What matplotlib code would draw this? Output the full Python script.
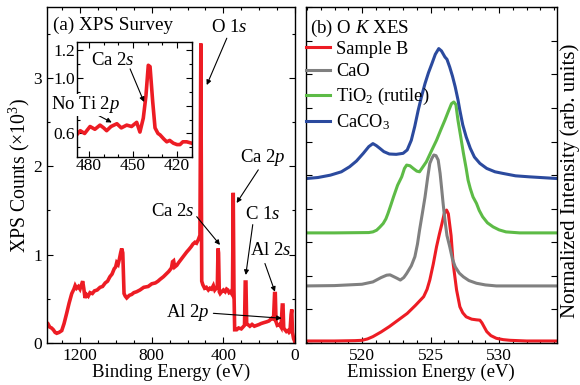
import matplotlib
matplotlib.use("Agg")
import matplotlib.pyplot as plt
from matplotlib.ticker import MultipleLocator

plt.rcParams['font.family'] = ['Liberation Serif', 'DejaVu Serif']
plt.rcParams['mathtext.fontset'] = 'custom'
plt.rcParams['mathtext.rm'] = 'Liberation Serif'
plt.rcParams['mathtext.it'] = 'Liberation Serif:italic'
plt.rcParams['font.size'] = 13.5
plt.rcParams['xtick.labelsize'] = 12.5
plt.rcParams['ytick.labelsize'] = 12.5

# ---------------- data: (a) XPS survey ----------------
be_main = [1387, 1378, 1370, 1360, 1350, 1340, 1331, 1318, 1303, 1290, 1275, 1262, 1247, 1235,
           1228, 1220, 1210, 1201, 1193, 1186, 1180, 1173, 1165, 1155, 1145, 1132, 1120, 1105,
           1089, 1075, 1060, 1047, 1034, 1022, 1010, 1002, 996, 988, 981, 974, 968, 962, 958,
           955, 948, 940, 925, 912, 900, 885, 866, 845, 820, 800, 780, 765, 754, 735, 720,
           705, 690, 684, 678, 672, 660, 650, 635, 620, 605, 592, 580, 570, 559, 550, 540,
           531, 526, 521, 515, 505, 495, 484, 475, 466, 456, 448, 440, 434, 430, 427, 423,
           418, 410, 400, 390, 382, 375, 368, 360, 354, 349, 345, 341, 337, 326, 315, 300,
           289, 282, 278, 274, 270, 264, 252, 240, 227, 214, 200, 190, 175, 158, 145, 130,
           120, 114, 110, 106, 99, 87, 78, 71, 67, 63, 56, 48, 40, 33, 28, 22, 18, 14, 8, 2, 0]
cnt_main = [0.19, 0.21, 0.18, 0.17, 0.15, 0.12, 0.11, 0.12, 0.14, 0.22, 0.34, 0.45, 0.56, 0.61,
            0.65, 0.62, 0.64, 0.61, 0.66, 0.70, 0.62, 0.51, 0.55, 0.53, 0.57, 0.56, 0.59, 0.60,
            0.63, 0.64, 0.68, 0.70, 0.75, 0.78, 0.84, 0.86, 0.91, 0.89, 0.95, 1.02, 1.07, 1.02,
            0.75, 0.56, 0.53, 0.51, 0.54, 0.55, 0.57, 0.58, 0.60, 0.63, 0.64, 0.67, 0.68, 0.70,
            0.72, 0.75, 0.78, 0.81, 0.85, 0.92, 0.93, 0.86, 0.88, 0.91, 0.95, 0.99, 1.03, 1.06,
            1.09, 1.12, 1.14, 1.13, 1.17, 1.22, 3.39, 0.70, 0.66, 0.62, 0.63, 0.60, 0.62, 0.61,
            0.65, 0.60, 0.62, 0.63, 1.07, 1.02, 0.58, 0.56, 0.58, 0.60, 0.58, 0.61, 0.60, 0.57,
            0.58, 0.56, 0.62, 1.70, 0.60, 0.15, 0.15, 0.17, 0.16, 0.185, 0.20, 0.69, 0.69, 0.22,
            0.21, 0.19, 0.21, 0.19, 0.20, 0.21, 0.22, 0.23, 0.24, 0.25, 0.28, 0.27, 0.56, 0.56,
            0.24, 0.20, 0.21, 0.18, 0.43, 0.43, 0.17, 0.15, 0.13, 0.14, 0.12, 0.13, 0.32, 0.38,
            0.12, 0.05, 0.02, 0.0]

be_inset = [488.4, 486, 483, 479.3, 476, 472.5, 470, 468, 465, 461, 458, 454.3, 451, 447.5,
            445.3, 443, 441.2, 439.6, 438.4, 436.6, 435, 433, 431.6, 429, 427, 425, 422.5,
            420, 418, 416, 413.4, 410]
cnt_inset = [0.59, 0.62, 0.60, 0.65, 0.63, 0.66, 0.64, 0.62, 0.65, 0.67, 0.64, 0.66, 0.65,
             0.68, 0.61, 0.71, 0.87, 1.09, 1.08, 0.83, 0.64, 0.60, 0.59, 0.56, 0.54, 0.55,
             0.53, 0.52, 0.52, 0.54, 0.54, 0.53]

# ---------------- data: (b) O K XES ----------------
e_sampleB = [515.9, 518.0, 519.5, 520.0, 520.4, 520.8, 521.4, 522.0, 522.6, 523.3, 523.9,
             524.5, 524.75, 524.95, 525.2, 525.44, 525.65, 525.8, 526.0, 526.17, 526.3, 526.5,
             526.65, 526.9, 527.14, 527.35, 527.6, 528.0, 528.35, 528.6, 528.75, 528.95,
             529.1, 529.4, 529.8, 530.3, 530.8, 532.0, 534.2]
i_sampleB = [0.06, 0.06, 0.07, 0.08, 0.12, 0.19, 0.33, 0.49, 0.67, 0.88, 1.12, 1.38, 1.60,
             1.88, 2.35, 2.87, 3.25, 3.50, 3.85, 3.96, 3.85, 3.20, 2.37, 1.58, 1.08, 0.90,
             0.78, 0.71, 0.69, 0.68, 0.60, 0.45, 0.34, 0.22, 0.14, 0.10, 0.08, 0.06, 0.06]

e_CaO = [515.9, 518.0, 520.0, 520.8, 521.4, 521.8, 522.05, 522.3, 522.55, 522.8, 523.05,
         523.26, 523.6, 523.86, 524.05, 524.2, 524.4, 524.6, 524.8, 524.95, 525.1, 525.24,
         525.4, 525.56, 525.7, 525.8, 525.92, 526.05, 526.2, 526.4, 526.6, 526.8, 527.1,
         527.4, 527.8, 528.35, 529.0, 529.8, 534.2]
i_CaO = [1.70, 1.71, 1.75, 1.82, 1.95, 2.02, 2.03, 1.98, 1.93, 1.875, 1.95, 2.07, 2.30, 2.57,
         2.95, 3.36, 3.85, 4.35, 4.95, 5.35, 5.50, 5.60, 5.58, 5.45, 5.05, 4.65, 4.15, 3.66,
         3.20, 2.87, 2.50, 2.27, 2.08, 1.97, 1.86, 1.78, 1.73, 1.70, 1.70]

e_TiO2 = [515.9, 518.0, 520.5, 520.8, 521.07, 521.3, 521.55, 521.75, 521.9, 522.1, 522.3,
          522.6, 522.9, 523.1, 523.26, 523.5, 523.74, 524.0, 524.2, 524.45, 524.7, 525.1,
          525.44, 525.75, 526.05, 526.3, 526.53, 526.7, 526.85, 527.0, 527.2, 527.4, 527.6,
          527.74, 527.9, 528.1, 528.35, 528.55, 528.8, 529.15, 529.56, 530.0, 530.5, 531.5,
          534.2]
i_TiO2 = [3.28, 3.28, 3.29, 3.31, 3.36, 3.45, 3.56, 3.70, 3.86, 4.10, 4.35, 4.70, 4.95, 5.20,
          5.30, 5.28, 5.20, 5.12, 5.10, 5.25, 5.40, 5.75, 6.04, 6.35, 6.64, 6.90, 7.13, 7.18,
          7.10, 6.64, 6.15, 5.65, 5.20, 4.85, 4.60, 4.35, 4.16, 3.95, 3.76, 3.58, 3.46, 3.37,
          3.31, 3.28, 3.28]

e_CaCO3 = [515.97, 516.8, 517.7, 518.5, 519.1, 519.6, 520.1, 520.5, 520.8, 521.05, 521.3,
           521.6, 522.0, 522.5, 523.0, 523.3, 523.6, 523.85, 524.1, 524.35, 524.6, 524.85,
           525.1, 525.35, 525.6, 525.8, 526.05, 526.2, 526.4, 526.6, 526.8, 527.0, 527.14,
           527.35, 527.6, 527.9, 528.2, 528.6, 529.1, 529.7, 530.3, 531.2, 532.2, 534.2]
i_CaCO3 = [4.90, 4.93, 5.00, 5.10, 5.25, 5.42, 5.65, 5.85, 5.94, 5.88, 5.80, 5.70, 5.63, 5.62,
           5.65, 5.75, 6.04, 6.45, 6.93, 7.35, 7.73, 8.05, 8.32, 8.60, 8.77, 8.70, 8.52, 8.45,
           8.22, 7.95, 7.63, 7.25, 6.93, 6.50, 6.14, 5.80, 5.54, 5.35, 5.20, 5.10, 5.05, 4.98,
           4.95, 4.90]

RED = '#ED1C24'
GRAY = '#808080'
GREEN = '#5DBB46'
BLUE = '#2B4A9E'

fig = plt.figure(figsize=(5.8, 3.85), dpi=100)
axA = fig.add_axes([46.7/580, 42/385, (295-46.7)/580, (343-7.3)/385])
axB = fig.add_axes([305.7/580, 42/385, (556.7-305.7)/580, (343-7.3)/385])

def style(ax):
    ax.tick_params(which='both', direction='in', top=True, right=True, width=0.8)
    ax.tick_params(which='major', length=4)
    ax.tick_params(which='minor', length=2.5)
    for s in ax.spines.values():
        s.set_linewidth(1.0)

# ---- panel (a)
axA.plot(be_main, cnt_main, color=RED, lw=2.6, solid_joinstyle='miter')
axA.set_xlim(1387, 0)
axA.set_ylim(0, 3.8)
axA.xaxis.set_major_locator(MultipleLocator(400))
axA.xaxis.set_minor_locator(MultipleLocator(100))
axA.yaxis.set_major_locator(MultipleLocator(1))
axA.yaxis.set_minor_locator(MultipleLocator(0.5))
style(axA)
axA.set_xlabel('Binding Energy (eV)', labelpad=0)
axA.set_ylabel('XPS Counts (×10$^{3}$)', labelpad=1, fontsize=14.2)
axA.text(1352, 3.6, '(a) XPS Survey', ha='left', va='center', fontsize=13.8)

arrow = dict(arrowstyle='-|>', color='black', lw=0.8, mutation_scale=7, shrinkA=0, shrinkB=0)
def ann(ax, txt, tpos, start, tip):
    ax.text(tpos[0], tpos[1], txt, ha='center', va='center')
    ax.annotate('', xy=tip, xytext=start, arrowprops=arrow)

ann(axA, r'O $\mathit{1s}$', (369, 3.57), (381, 3.45), (493, 2.92))
ann(axA, r'Ca $\mathit{2p}$', (179, 2.1), (205, 1.96), (326, 1.585))
ann(axA, r'Ca $\mathit{2s}$', (681, 1.49), (549, 1.43), (419, 1.11))
ann(axA, r'C $\mathit{1s}$', (179, 1.45), (236, 1.34), (275, 0.77))
ann(axA, r'Al $\mathit{2s}$', (134, 1.05), (168, 0.90), (112, 0.58))
ann(axA, r'Al $\mathit{2p}$', (600, 0.34), (456, 0.336), (74, 0.28))

# inset
axI = fig.add_axes([76.7/580, (385-156.7)/385, (191.7-76.7)/580, (156.7-42.3)/385])
axI.plot(be_inset, cnt_inset, color=RED, lw=2.6)
axI.set_xlim(488.4, 410)
axI.set_ylim(0.433, 1.255)
axI.set_xticks([480, 450, 420])
axI.xaxis.set_minor_locator(MultipleLocator(10))
axI.set_yticks([0.6, 0.8, 1.0, 1.2])
axI.set_yticklabels(['0.6', '', '1.0', '1.2'])
axI.yaxis.set_minor_locator(MultipleLocator(0.1))
style(axI)
axI.tick_params(which='major', pad=1)
axI.text(463.7, 1.127, r'Ca $\mathit{2s}$', ha='center', va='center')
axI.annotate('', xy=(442.5, 0.826), xytext=(452, 1.064), arrowprops=arrow)
axI.text(0.081, 0.452, r'No Ti $\mathit{2p}$', transform=axI.transAxes, ha='center',
         va='center', zorder=5, clip_on=False,
         bbox=dict(facecolor='white', edgecolor='none', pad=0.5))
axI.annotate('', xy=(464.5, 0.679), xytext=(473.7, 0.73), arrowprops=arrow)

# ---- panel (b)
axB.plot(e_sampleB, i_sampleB, color=RED, lw=2.2, label='Sample B')
axB.plot(e_CaO, i_CaO, color=GRAY, lw=2.2, label='CaO')
axB.plot(e_TiO2, i_TiO2, color=GREEN, lw=2.2, label='TiO$_2$ (rutile)')
axB.plot(e_CaCO3, i_CaCO3, color=BLUE, lw=2.2, label='CaCO$_3$')
axB.set_xlim(515.9, 534.2)
axB.set_ylim(0, 10)
axB.xaxis.set_major_locator(MultipleLocator(5))
axB.xaxis.set_minor_locator(MultipleLocator(1))
axB.yaxis.set_major_locator(MultipleLocator(1))
axB.set_yticklabels([])
style(axB)
axB.set_xlabel('Emission Energy (eV)', labelpad=0)
fig.text(570/580, 1 - 181/385, 'Normalized Intensity (arb. units)', rotation=90,
         ha='center', va='center', fontsize=15)
axB.text(0.017, 0.937, r'(b) O $\mathit{K}$ XES', transform=axB.transAxes,
         ha='left', va='center', fontsize=13.6)
axB.legend(loc='upper left', bbox_to_anchor=(0.0, 0.90), frameon=False, fontsize=13.2,
           borderaxespad=0, borderpad=0, handlelength=1.35, handletextpad=0.3,
           labelspacing=0.3)

fig.savefig('out.png', dpi=100)
